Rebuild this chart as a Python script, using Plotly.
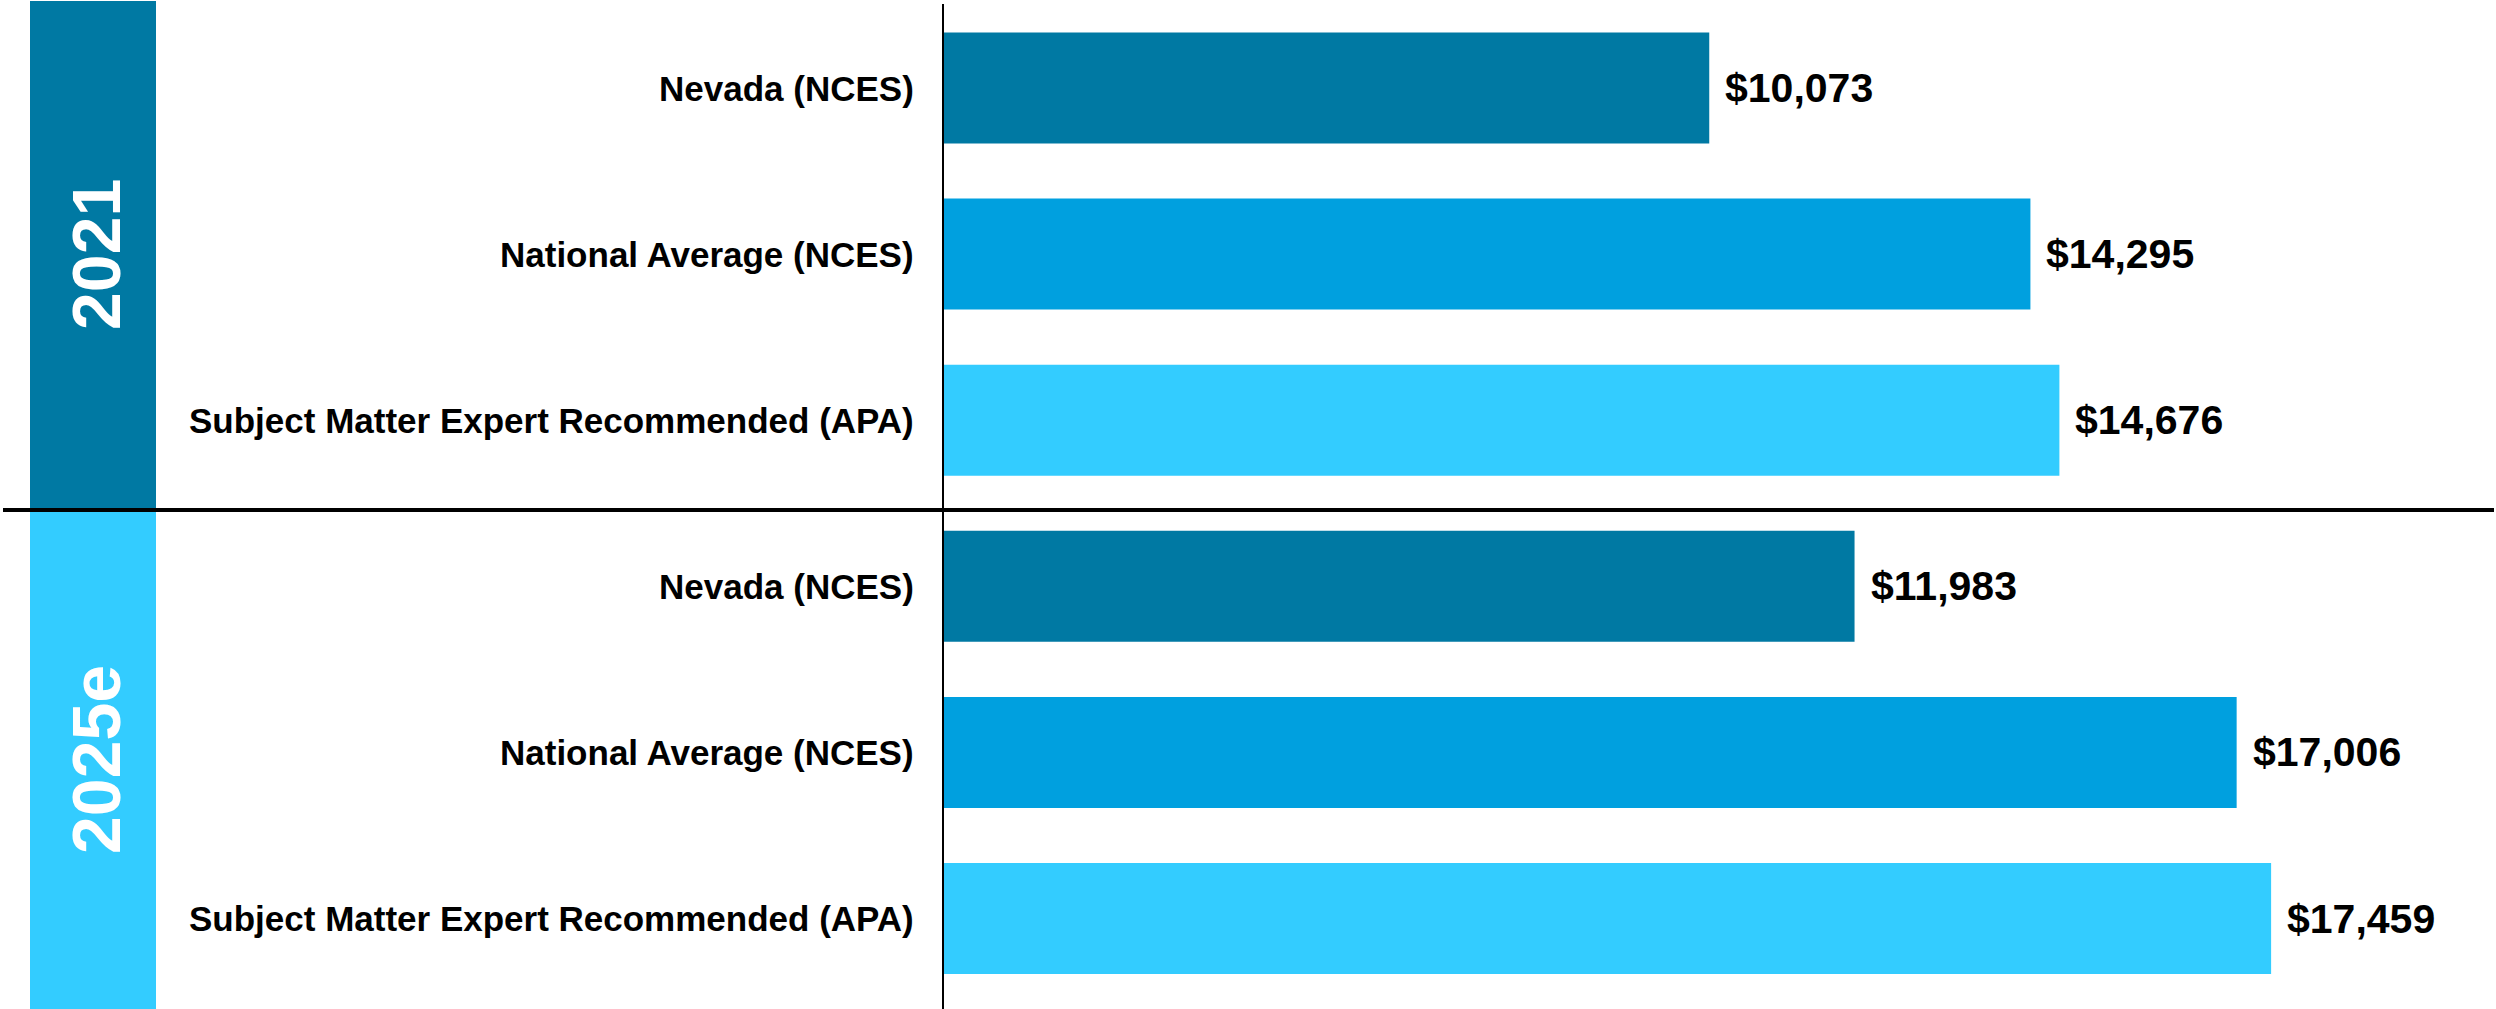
import plotly.graph_objects as go

# ---- data ----
years = ["2021", "2025e"]
categories = ["Nevada (NCES)", "National Average (NCES)", "Subject Matter Expert Recommended (APA)"]
values_2021 = [10073, 14295, 14676]
values_2025 = [11983, 17006, 17459]
cat_colors = ["#0079A3", "#00A0DF", "#33CCFF"]
year_colors = ["#0079A3", "#33CCFF"]

W, H = 2496, 1009
FONT = "Liberation Sans Narrow, Arial Narrow, Liberation Sans, Arial, sans-serif"

AX_X = 943          # pixel x of value axis (zero)
PX_PER_DOLLAR = 0.07607
x_max = (W - AX_X) / PX_PER_DOLLAR

pitch = 166.1
first_center = 88.0
y_top = 0 - first_center / pitch
y_bot = 5 + (H - (first_center + 5 * pitch)) / pitch

fig = go.Figure()
all_vals = [values_2021, values_2025]
for ci, cat in enumerate(categories):
    ys = [yi * 3 + ci for yi in range(len(years))]
    xs = [all_vals[yi][ci] for yi in range(len(years))]
    fig.add_trace(go.Bar(
        x=xs, y=ys, orientation="h", width=0.668,
        marker=dict(color=cat_colors[ci], line=dict(width=0)),
        showlegend=False, hoverinfo="skip",
    ))

annotations = []
for yi, yr in enumerate(years):
    for ci, cat in enumerate(categories):
        pos = yi * 3 + ci
        annotations.append(dict(
            x=916 / W, xref="paper", y=pos, yref="y", text=f"<b>{cat}</b>",
            showarrow=False, xanchor="right", yanchor="middle",
            font=dict(family=FONT, size=35, color="black"),
        ))
        annotations.append(dict(
            x=all_vals[yi][ci], xref="x", y=pos, yref="y",
            text=f"<b>${all_vals[yi][ci]:,}</b>",
            showarrow=False, xanchor="left", yanchor="middle", xshift=14,
            font=dict(family=FONT, size=41, color="black"),
        ))

# year band labels
band_px = [(1, 509), (511, H)]
shapes = []
for yi, yr in enumerate(years):
    t, b = band_px[yi]
    shapes.append(dict(type="rect", xref="paper", yref="paper",
                       x0=30 / W, x1=156 / W, y0=1 - b / H, y1=1 - t / H,
                       fillcolor=year_colors[yi], line=dict(width=0), layer="below"))
    annotations.append(dict(
        x=96 / W, xref="paper", y=1 - ((t + b) / 2) / H, yref="paper",
        text=f"<b>{yr}</b>", textangle=-90, showarrow=False,
        xanchor="center", yanchor="middle",
        font=dict(family=FONT, size=68, color="white"),
    ))

# divider and axis line
shapes.append(dict(type="line", xref="paper", yref="paper",
                   x0=3 / W, x1=2494 / W, y0=1 - 510 / H, y1=1 - 510 / H,
                   line=dict(color="black", width=4)))
shapes.append(dict(type="line", xref="paper", yref="paper",
                   x0=AX_X / W, x1=AX_X / W, y0=0, y1=1 - 4 / H,
                   line=dict(color="black", width=2)))

fig.update_layout(
    width=W, height=H,
    margin=dict(l=0, r=0, t=0, b=0),
    paper_bgcolor="white", plot_bgcolor="white",
    barmode="overlay",
    xaxis=dict(domain=[AX_X / W, 1], range=[0, x_max], visible=False),
    yaxis=dict(range=[y_bot, y_top], visible=False),
    shapes=shapes, annotations=annotations,
    font=dict(family=FONT),
)

fig.write_html(
    "out.html",
    config={"displayModeBar": False},
    post_script="document.body.style.margin='0';document.body.style.overflow='hidden';",
)
